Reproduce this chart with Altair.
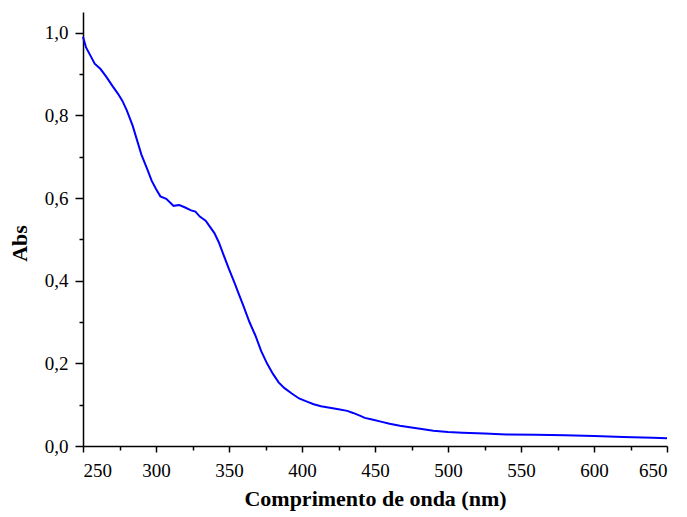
import altair as alt
import pandas as pd

wavelength = [250, 252, 255, 258, 262, 266, 270, 274, 277, 280, 284, 287, 290, 294, 297,
              300, 303, 307, 310, 312, 316, 320, 324, 327, 330, 334, 337, 340, 343, 346,
              350, 354, 357, 360, 364, 368, 372, 376, 380, 384, 388, 393, 398, 403, 408,
              413, 418, 425, 431, 435, 440, 443, 448, 454, 460, 467, 475, 482, 490, 500,
              510, 525, 540, 560, 580, 600, 620, 640, 650]
absorbance = [0.99, 0.965, 0.945, 0.925, 0.912, 0.893, 0.872, 0.852, 0.835, 0.812, 0.775,
              0.74, 0.705, 0.67, 0.642, 0.622, 0.604, 0.598, 0.588, 0.581, 0.583, 0.577,
              0.570, 0.567, 0.555, 0.545, 0.530, 0.515, 0.493, 0.465, 0.428, 0.393, 0.365,
              0.338, 0.300, 0.268, 0.230, 0.200, 0.175, 0.154, 0.140, 0.127, 0.115, 0.108,
              0.101, 0.096, 0.093, 0.089, 0.085, 0.080, 0.073, 0.068, 0.064, 0.059, 0.054,
              0.049, 0.045, 0.041, 0.037, 0.034, 0.032, 0.030, 0.028, 0.027, 0.026, 0.024,
              0.022, 0.020, 0.019]

x_major = [250, 300, 350, 400, 450, 500, 550, 600, 650]
x_minor = [275, 325, 375, 425, 475, 525, 575, 625]
y_major = [0.0, 0.2, 0.4, 0.6, 0.8, 1.0]
y_minor = [0.1, 0.3, 0.5, 0.7, 0.9]

df = pd.DataFrame({"wl": wavelength, "abs": absorbance})
FONT = "Liberation Serif"
label_expr = "replace(format(datum.value, '.1f'), '.', ',')"

common = dict(labelFont=FONT, titleFont=FONT, labelFontSize=19, titleFontSize=22,
              titleFontWeight="bold", labelColor="#000000", titleColor="#000000",
              domainColor="#000000", tickColor="#000000", domainWidth=1.5, tickWidth=1.5,
              grid=False)

xscale = alt.Scale(domain=[250, 650], nice=False, zero=False)
yscale = alt.Scale(domain=[0, 1.05], nice=False, zero=False)

main = alt.Chart(df).mark_line(color="#0000FF", strokeWidth=2).encode(
    x=alt.X("wl:Q", scale=xscale,
            axis=alt.Axis(values=x_major, title="Comprimento de onda (nm)",
                          orient="bottom", tickSize=6, labelPadding=9, titlePadding=8,
                          format="d", **common)),
    y=alt.Y("abs:Q", scale=yscale,
            axis=alt.Axis(values=y_major, title="Abs", orient="left",
                          tickSize=8, labelPadding=7, titlePadding=13, titleY=231,
                          labelExpr=label_expr, **common)),
)

minor = alt.Chart(df).mark_line(strokeOpacity=0).encode(
    x=alt.X("wl:Q", scale=xscale,
            axis=alt.Axis(values=x_minor, title=None, labels=False, grid=False,
                          orient="bottom", tickSize=4, domain=False,
                          tickColor="#000000", tickWidth=1.5)),
    y=alt.Y("abs:Q", scale=yscale,
            axis=alt.Axis(values=y_minor, title=None, labels=False, grid=False,
                          orient="left", tickSize=4, domain=False,
                          tickColor="#000000", tickWidth=1.5)),
)

chart = alt.layer(main, minor).resolve_axis(x="independent", y="independent").properties(
    width=584, height=434,
    autosize=alt.AutoSizeParams(type="none"),
    padding={"left": 75, "top": 4, "right": 12, "bottom": 70},
).configure_view(stroke=None)

chart.save("out.html", embed_options={"renderer": "svg", "actions": False})
